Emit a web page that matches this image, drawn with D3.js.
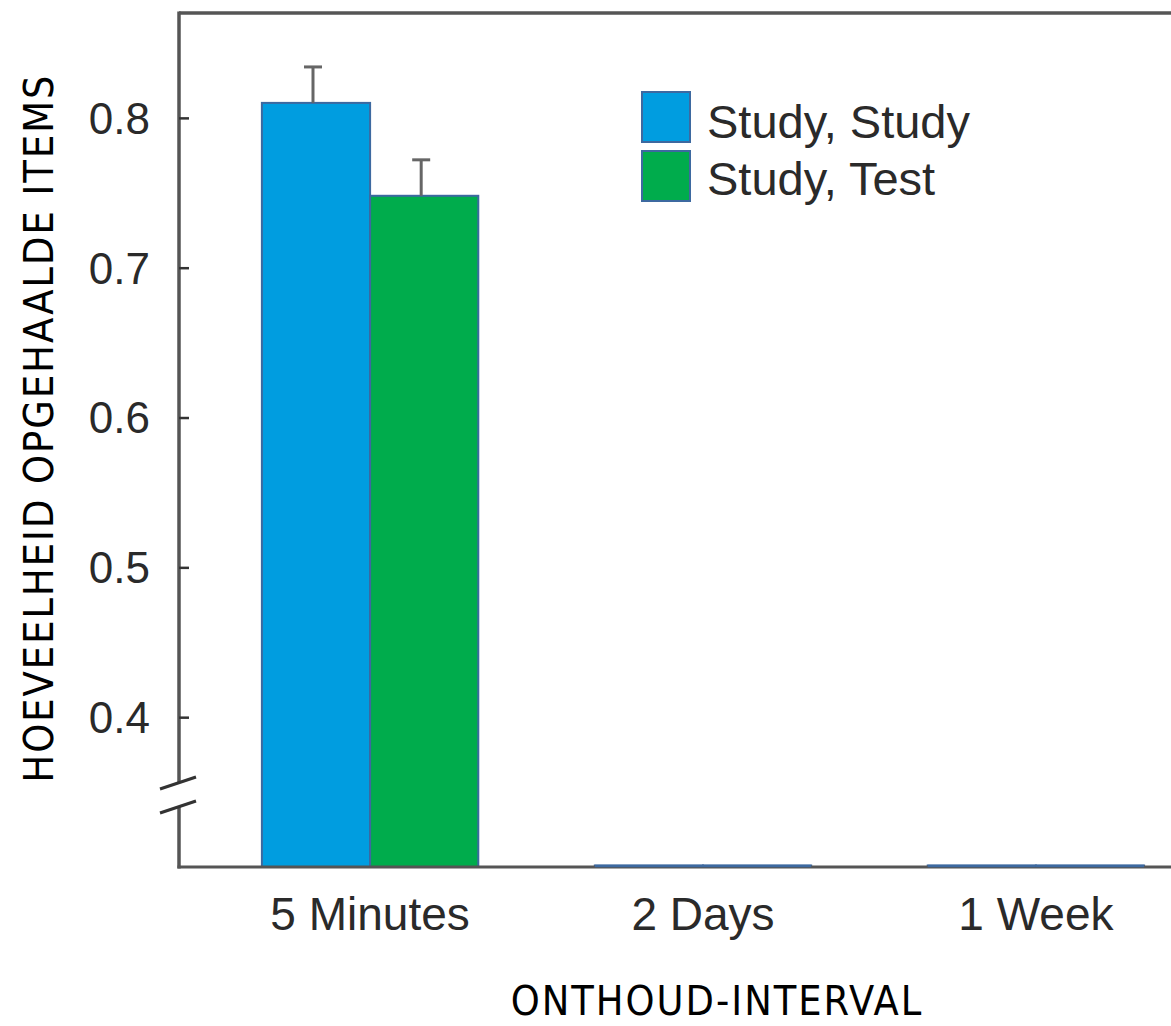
<!DOCTYPE html>
<html>
<head>
<meta charset="utf-8">
<script src="https://cdn.jsdelivr.net/npm/d3@7/dist/d3.min.js"></script>
<style>
  html, body { margin: 0; padding: 0; background: #fff; }
  svg { display: block; }
</style>
</head>
<body>
<svg id="chart" width="1171" height="1026"></svg>
<script>
// ---- data ----
const categories = ["5 Minutes", "2 Days", "1 Week"];
const seriesNames = ["Study, Study", "Study, Test"];
const studyStudy = [0.81, 0.30, 0.30];
const studyTest = [0.748, 0.30, 0.30];
const studyStudyErr = [0.024, null, null];
const studyTestErr = [0.024, null, null];
const yTicks = [0.4, 0.5, 0.6, 0.7, 0.8];
const yTitle = "HOEVEELHEID OPGEHAALDE ITEMS";
const xTitle = "ONTHOUD-INTERVAL";

const colors = ["#009de0", "#00ac4c"];
const barStroke = "#3d69a0";
const axisColor = "#555";

const svg = d3.select("#chart");
const x0 = 179, yBase = 867, yTop = 13;

const y = d3.scaleLinear().domain([0.3, 0.87]).range([yBase, yTop]);
const x = d3.scaleBand().domain(categories).range([x0 + 3, 1224]).paddingInner(0.35).paddingOuter(0.24);
const xs = d3.scaleBand().domain(seriesNames).range([0, x.bandwidth()]);

const series = [
  {name: seriesNames[0], values: studyStudy, err: studyStudyErr, color: colors[0]},
  {name: seriesNames[1], values: studyTest, err: studyTestErr, color: colors[1]}
];

// bars
series.forEach(s => {
  const g = svg.append("g");
  g.selectAll("rect").data(categories.map((c, i) => ({c, v: s.values[i], e: s.err[i]})))
    .join("rect")
    .attr("x", d => x(d.c) + xs(s.name))
    .attr("width", xs.bandwidth())
    .attr("y", d => Math.min(y(d.v), yBase - 1.5))
    .attr("height", d => Math.max(yBase - y(d.v), 1.5))
    .attr("fill", s.color)
    .attr("stroke", barStroke)
    .attr("stroke-width", 2);
  // error bars (upward)
  const eb = categories.map((c, i) => ({c, v: s.values[i], e: s.err[i]})).filter(d => d.e != null);
  g.selectAll("line.eb").data(eb).join("line")
    .attr("x1", d => x(d.c) + xs(s.name) + xs.bandwidth() / 2 - 3)
    .attr("x2", d => x(d.c) + xs(s.name) + xs.bandwidth() / 2 - 3)
    .attr("y1", d => y(d.v)).attr("y2", d => y(d.v + d.e))
    .attr("stroke", "#666").attr("stroke-width", 3);
  g.selectAll("line.cap").data(eb).join("line")
    .attr("x1", d => x(d.c) + xs(s.name) + xs.bandwidth() / 2 - 12)
    .attr("x2", d => x(d.c) + xs(s.name) + xs.bandwidth() / 2 + 6)
    .attr("y1", d => y(d.v + d.e)).attr("y2", d => y(d.v + d.e))
    .attr("stroke", "#666").attr("stroke-width", 3);
});

// frame: top line and bottom axis line
svg.append("line").attr("x1", x0).attr("x2", 1171).attr("y1", yTop).attr("y2", yTop)
  .attr("stroke", axisColor).attr("stroke-width", 3.5);
svg.append("line").attr("x1", x0 - 1.5).attr("x2", 1171).attr("y1", yBase).attr("y2", yBase)
  .attr("stroke", axisColor).attr("stroke-width", 3);

// redraw flat bars on top of baseline
series.forEach(s => {
  svg.append("g").selectAll("line")
    .data(categories.map((c, i) => ({c, v: s.values[i]})).filter(d => yBase - y(d.v) < 1.5))
    .join("line")
    .attr("x1", d => x(d.c) + xs(s.name)).attr("x2", d => x(d.c) + xs(s.name) + xs.bandwidth())
    .attr("y1", yBase - 1).attr("y2", yBase - 1)
    .attr("stroke", barStroke).attr("stroke-width", 2.5);
});

// y axis with break
const breakTop = 782, breakBot = 806;
svg.append("line").attr("x1", x0).attr("x2", x0).attr("y1", yTop - 1.5).attr("y2", breakTop)
  .attr("stroke", axisColor).attr("stroke-width", 3.5);
svg.append("line").attr("x1", x0).attr("x2", x0).attr("y1", breakBot).attr("y2", yBase + 1.5)
  .attr("stroke", axisColor).attr("stroke-width", 3.5);
[breakTop, breakBot].forEach(by => {
  svg.append("line").attr("x1", x0 - 19).attr("x2", x0 + 17).attr("y1", by + 7).attr("y2", by - 5)
    .attr("stroke", "#333").attr("stroke-width", 3);
});

const yAxis = d3.axisRight(y).tickValues(yTicks).tickSize(10).tickFormat("");
const ya = svg.append("g").attr("transform", `translate(${x0},0)`).call(yAxis);
ya.select(".domain").remove();
ya.selectAll(".tick line").attr("stroke", "#333").attr("stroke-width", 2.5);

// tick labels
svg.append("g").selectAll("text").data(yTicks).join("text")
  .attr("x", 150).attr("y", d => y(d)).attr("dy", "0.36em")
  .attr("text-anchor", "end")
  .attr("font-family", "'Liberation Sans', Arial, sans-serif")
  .attr("font-size", 44).attr("fill", "#2a2a2a")
  .text(d => d.toFixed(1));

// category labels
svg.append("g").selectAll("text").data(categories).join("text")
  .attr("x", d => x(d) + x.bandwidth() / 2).attr("y", 930)
  .attr("text-anchor", "middle")
  .attr("font-family", "'Liberation Sans', Arial, sans-serif")
  .attr("font-size", 46).attr("fill", "#2a2a2a")
  .text(d => d);

// legend
const lg = svg.append("g");
series.forEach((s, i) => {
  lg.append("rect").attr("x", 642).attr("y", 92 + i * 59).attr("width", 48).attr("height", 50)
    .attr("fill", s.color).attr("stroke", barStroke).attr("stroke-width", 2);
  lg.append("text").attr("x", 707).attr("y", 138 + i * 57)
    .attr("font-family", "'Liberation Sans', Arial, sans-serif")
    .attr("font-size", 47).attr("fill", "#2a2a2a")
    .text(s.name);
});

// axis titles
const titleFont = "'Liberation Sans Narrow', 'DejaVu Sans Condensed', 'Roboto Condensed', sans-serif";
svg.append("text")
  .attr("transform", `translate(53, 428) rotate(-90)`)
  .attr("text-anchor", "middle")
  .attr("font-family", titleFont).attr("font-size", 41).attr("letter-spacing", 2)
  .attr("fill", "#000")
  .text(yTitle);
svg.append("text")
  .attr("x", 717).attr("y", 1015)
  .attr("text-anchor", "middle")
  .attr("font-family", titleFont).attr("font-size", 41).attr("letter-spacing", 2)
  .attr("fill", "#000")
  .text(xTitle);
</script>
</body>
</html>
